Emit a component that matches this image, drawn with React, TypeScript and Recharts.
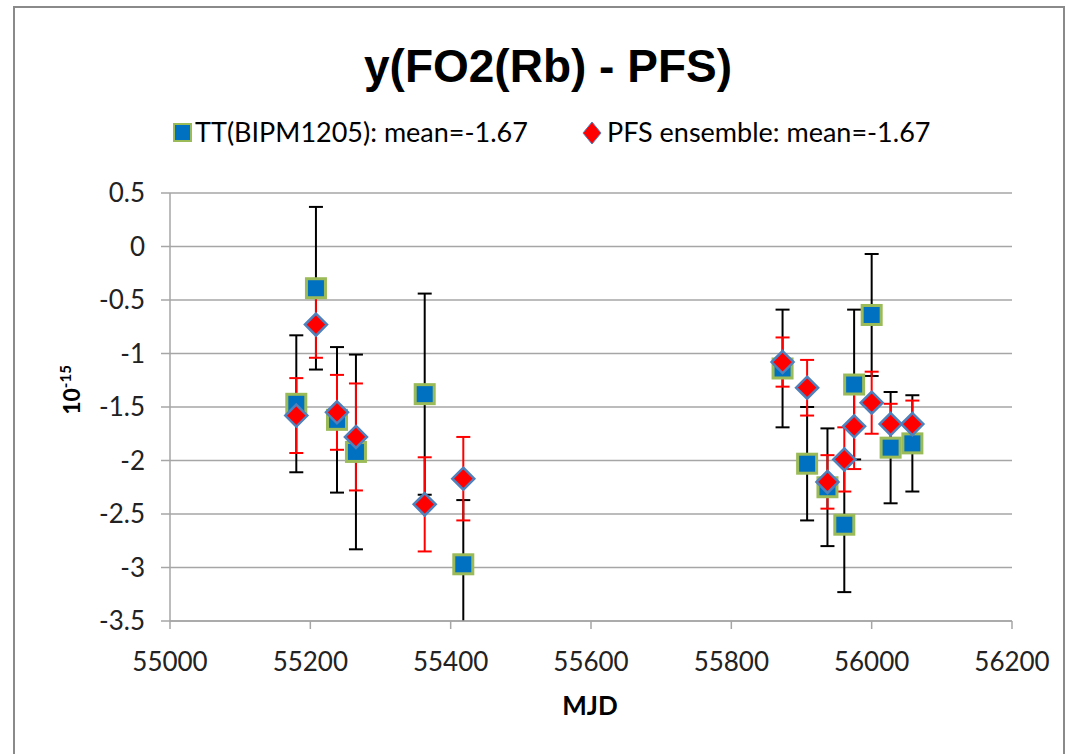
import { CartesianGrid, ErrorBar, Scatter, ScatterChart, XAxis, YAxis } from "recharts";

// MJD of each comparison
const mjd = [55180, 55208, 55238, 55265, 55363, 55418, 55873, 55908, 55937, 55961, 55975, 56000, 56027, 56058];

// TT(BIPM1205) values and uncertainties (1e-15)
const ttValues = [-1.47, -0.39, -1.62, -1.92, -1.38, -2.97, -1.14, -2.03, -2.25, -2.6, -1.29, -0.64, -1.88, -1.84];
const ttErrors = [0.64, 0.76, 0.68, 0.91, 0.94, 0.6, 0.55, 0.53, 0.55, 0.63, 0.7, 0.57, 0.52, 0.45];

// PFS ensemble values and uncertainties (1e-15)
const pfsValues = [-1.58, -0.73, -1.55, -1.78, -2.41, -2.17, -1.08, -1.32, -2.2, -1.99, -1.68, -1.46, -1.66, -1.66];
const pfsErrors = [0.35, 0.31, 0.35, 0.5, 0.44, 0.39, 0.23, 0.26, 0.25, 0.3, 0.4, 0.29, 0.19, 0.22];

const xTicks = [55000, 55200, 55400, 55600, 55800, 56000, 56200];
const yTicks = [-3.5, -3, -2.5, -2, -1.5, -1, -0.5, 0, 0.5];

const ttLabel = "TT(BIPM1205): mean=-1.67";
const pfsLabel = "PFS ensemble: mean=-1.67";

const ttData = mjd.map((x, i) => ({ x, y: ttValues[i], err: ttErrors[i] }));
const pfsData = mjd.map((x, i) => ({ x, y: pfsValues[i], err: pfsErrors[i] }));

const FONT = "Lato, 'Open Sans', sans-serif";
const GRID = "#a6a6a6";

function SquareMark(props: any) {
  const { cx, cy } = props;
  return <rect x={cx - 9.5} y={cy - 9.5} width={19} height={19} fill="#0070C0" stroke="#9BBB59" strokeWidth={3} />;
}

function DiamondMark(props: any) {
  const { cx, cy } = props;
  const r = 11;
  return (
    <polygon
      points={`${cx},${cy - r} ${cx + r},${cy} ${cx},${cy + r} ${cx - r},${cy}`}
      fill="#FF0000"
      stroke="#4F81BD"
      strokeWidth={2.5}
    />
  );
}

const NoMark = () => <g />;

export default function App() {
  return (
    <div style={{ position: "relative", width: 1068, height: 754, background: "#fff", overflow: "hidden", fontFamily: FONT }}>
      <style>{`body{margin:0} .recharts-errorBars{clip-path:url(#plotClip)}`}</style>
      <div style={{ position: "absolute", left: 13, top: 6, width: 1048, height: 760, border: "2px solid #8a8a8a" }} />

      <div
        style={{
          position: "absolute",
          left: 348,
          width: 400,
          top: 38,
          textAlign: "center",
          fontFamily: "'Liberation Sans', Arial, sans-serif",
          fontWeight: "bold",
          fontSize: 46,
          lineHeight: "56px",
          color: "#000",
        }}
      >
        y(FO2(Rb) - PFS)
      </div>

      <svg style={{ position: "absolute", left: 0, top: 0 }} width={1068} height={754}>
        <defs>
          <clipPath id="plotClip" clipPathUnits="userSpaceOnUse">
            <rect x={160} y={150} width={870} height={471} />
          </clipPath>
        </defs>
        <rect x={174} y={124} width={17} height={17} fill="#0070C0" stroke="#9BBB59" strokeWidth={2} />
        <text x={195} y={142} fontFamily={FONT} fontSize={27} fill="#000">
          {ttLabel}
        </text>
        <polygon points="592,122 601,133 592,144 583,133" fill="#FF0000" stroke="#4F81BD" strokeWidth={1} />
        <text x={607} y={142} fontFamily={FONT} fontSize={27} fill="#000">
          {pfsLabel}
        </text>
        <text
          transform="translate(80,390) rotate(-90)"
          textAnchor="middle"
          fontFamily={FONT}
          fontWeight="bold"
          fontSize={23}
          fill="#000"
        >
          10
          <tspan fontSize={15} dy={-9}>
            -15
          </tspan>
        </text>
        <text x={590} y={715} textAnchor="middle" fontFamily={FONT} fontWeight="bold" fontSize={26} fill="#000">
          MJD
        </text>
      </svg>

      <div style={{ position: "absolute", left: 0, top: 0 }}>
        <ScatterChart width={1068} height={754} margin={{ top: 193, right: 56, bottom: 0, left: 0 }}>
          <CartesianGrid vertical={false} stroke={GRID} strokeWidth={1.5} />
          <XAxis
            type="number"
            dataKey="x"
            domain={[55000, 56200]}
            ticks={xTicks}
            height={133}
            stroke={GRID}
            strokeWidth={1.5}
            tickSize={8}
            tickMargin={24}
            tick={{ fill: "#222", fontSize: 26, fontFamily: FONT }}
          />
          <YAxis
            type="number"
            dataKey="y"
            domain={[-3.5, 0.5]}
            ticks={yTicks}
            allowDataOverflow
            width={170}
            stroke={GRID}
            strokeWidth={1.5}
            tickSize={9}
            tickMargin={16}
            tick={{ fill: "#222", fontSize: 26, fontFamily: FONT }}
          />
          <Scatter data={ttData} shape={NoMark} isAnimationActive={false}>
            <ErrorBar dataKey="err" direction="y" width={7} stroke="#000" strokeWidth={2} isAnimationActive={false} />
          </Scatter>
          <Scatter data={pfsData} shape={NoMark} isAnimationActive={false}>
            <ErrorBar dataKey="err" direction="y" width={7} stroke="#FF0000" strokeWidth={2} isAnimationActive={false} />
          </Scatter>
          <Scatter data={ttData} shape={SquareMark} isAnimationActive={false} />
          <Scatter data={pfsData} shape={DiamondMark} isAnimationActive={false} />
        </ScatterChart>
      </div>
    </div>
  );
}
